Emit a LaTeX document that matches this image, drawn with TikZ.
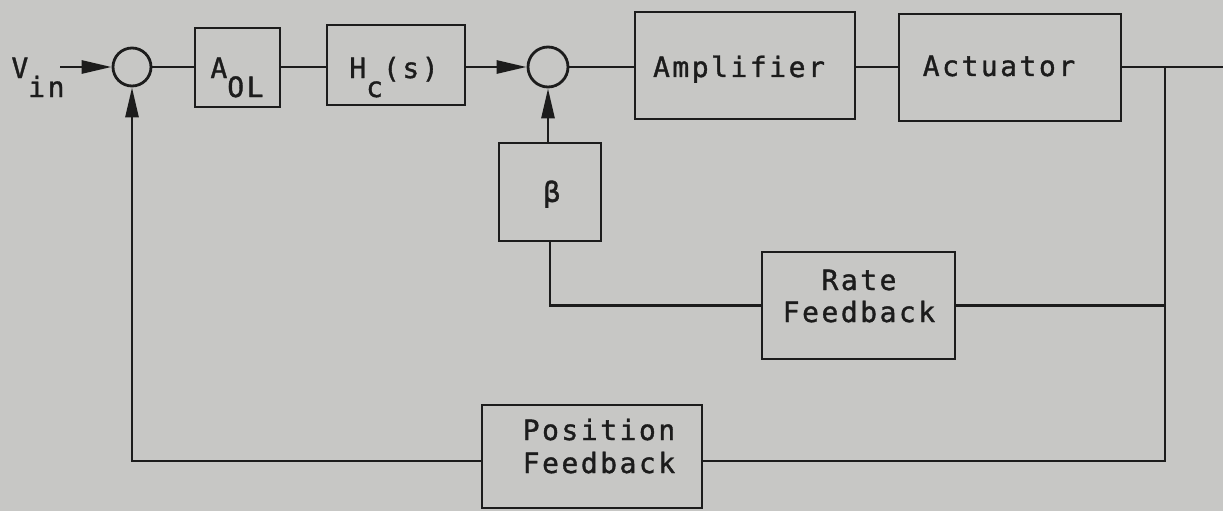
\documentclass[tikz,border=0pt]{standalone}
\usepackage{fontspec}
\newfontfamily\lblfont[LetterSpace=9,FakeBold=1.2]{DejaVu Sans Mono}
\usetikzlibrary{arrows.meta}
\definecolor{bg}{RGB}{199,199,197}
\definecolor{ink}{RGB}{28,28,28}
\begin{document}
\begin{tikzpicture}[x=1pt,y=-1pt,
  ln/.style={draw=ink, line width=2.8pt},
  blk/.style={ln, rectangle, inner sep=0pt},
  sumnode/.style={ln, circle, inner sep=0pt},
  arr/.style={ln, -{Triangle[length=30pt,width=13pt]}},
  txt/.style={inner sep=0pt, anchor=base, text=ink, font=\lblfont\fontsize{28}{34}\selectfont}]
\fill[bg] (0,0) rectangle (1223,511);
\useasboundingbox (0,0) rectangle (1223,511);
% blocks
\node[sumnode, minimum size=38pt] (c1) at (132,67) {};
\node[sumnode, minimum size=40pt] (c2) at (548,67) {};
\node[blk, minimum width=85pt, minimum height=79pt] (aol) at (237.5,67.5) {};
\node[blk, minimum width=138pt, minimum height=80pt] (hc) at (396,65) {};
\node[blk, minimum width=220pt, minimum height=107pt] (amp) at (745,65.5) {};
\node[blk, minimum width=222pt, minimum height=107pt] (act) at (1010,67.5) {};
\node[blk, minimum width=102pt, minimum height=98pt] (beta) at (550,192) {};
\node[blk, minimum width=193pt, minimum height=107pt] (rate) at (858.5,305.5) {};
\node[blk, minimum width=220pt, minimum height=103pt] (pos) at (592,456.5) {};
% texts
\node[txt] (tvin) at (38,78) {V\raisebox{-19pt}{in}};
\node[txt] (taol) at (237,78) {A\raisebox{-19pt}{OL}};
\node[txt] (thc) at (394,78) {H\raisebox{-19pt}{c}(s)};
\node[txt] (tamp) at (739,77) {Amplifier};
\node[txt] (tact) at (999,76) {Actuator};
\node[txt] (tbeta) at (552,202) {β};
\node[txt] (trate1) at (859,290) {Rate};
\node[txt] (trate2) at (859,322) {Feedback};
\node[txt] (tpos1) at (599,440) {Position};
\node[txt] (tpos2) at (599,473) {Feedback};
% coordinates
\coordinate (vinend) at (60,67);
\coordinate (j) at (1165,67);
\coordinate (out) at (1223,67);
\coordinate (pb) at (1165,461);
% connectors
\draw[arr] (vinend) -- (c1.west);
\draw[ln] (c1.east) -- (c1.east -| aol.west);
\draw[ln] (aol.east |- c1) -- (hc.west |- c1);
\draw[arr] (hc.east |- c2) -- (c2.west);
\draw[ln] (c2.east) -- (c2.east -| amp.west);
\draw[ln] (amp.east |- c2) -- (act.west |- c2);
\draw[ln] (act.east |- j) -- (out);
\draw[ln] (j) -- (pb) -- (pos.east |- pb);
\draw[ln] (rate.east) -- (rate.east -| j);
\draw[ln] (beta.south) -- (beta.south |- rate.west) -- (rate.west);
\draw[arr] (c2 |- beta.north) -- (c2.south);
\draw[arr] (pos.west |- pb) -- (c1 |- pb) -- (c1.south);
\end{tikzpicture}
\end{document}
